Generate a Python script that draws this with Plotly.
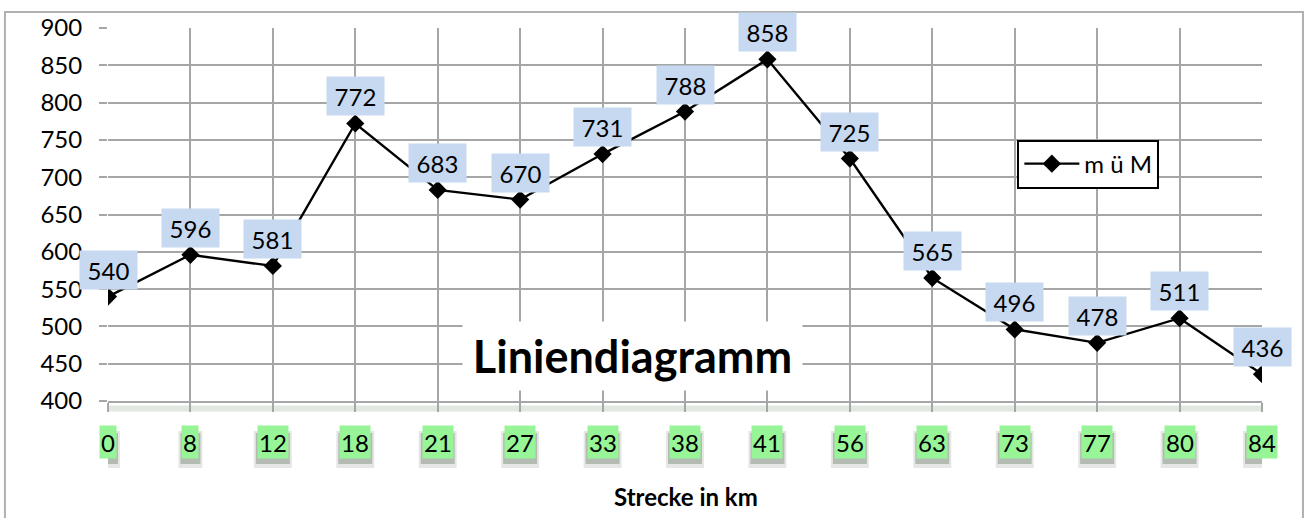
import plotly.graph_objects as go

categories = ["0", "8", "12", "18", "21", "27", "33", "38", "41", "56", "63", "73", "77", "80", "84"]
values = [540, 596, 581, 772, 683, 670, 731, 788, 858, 725, 565, 496, 478, 511, 436]
y_ticks = [400, 450, 500, 550, 600, 650, 700, 750, 800, 850, 900]
series_name = "m ü M"
title_text = "Liniendiagramm"
x_title = "Strecke in km"

FONT = "Lato"
GRID = "#a6a6a6"

fig = go.Figure()
fig.add_trace(go.Scatter(
    x=categories, y=values, mode="lines+markers", name=series_name,
    line=dict(color="black", width=2.4),
    marker=dict(symbol="diamond", size=14, color="black"),
))

annotations = []
shapes = []
# data labels (x given as category index)
for i, v in enumerate(values):
    annotations.append(dict(
        x=i, y=v, xref="x", yref="y", text=str(v), showarrow=False,
        xanchor="center", yanchor="middle",
        yshift=27, bgcolor="#c6d9f0", width=53, height=34, borderpad=2,
        font=dict(family=FONT, size=24, color="black"),
    ))
# green category labels with soft shadow
for i, c in enumerate(categories):
    half = len(c) * 7 + 2
    for extra, alpha, top, bottom in ((3, 0.12, -30, -67), (1, 0.26, -32, -63)):
        shapes.append(dict(
            type="rect", xref="x", yref="paper", xsizemode="pixel", ysizemode="pixel",
            xanchor=i, yanchor=0, x0=-half - extra, x1=half + extra, y0=bottom, y1=top,
            line=dict(width=0), fillcolor=f"rgba(40,60,40,{alpha})", layer="above",
        ))
    annotations.append(dict(
        x=i, y=0, xref="x", yref="paper", text=c, showarrow=False,
        xanchor="center", yanchor="middle",
        yshift=-41, bgcolor="#97f597", height=30, borderpad=1,
        font=dict(family=FONT, size=24, color="black"),
    ))
# title with white background
annotations.append(dict(
    x=0.4545, y=0.12, xref="paper", yref="paper", text="<b>" + title_text + "</b>",
    showarrow=False, xanchor="center", yanchor="middle",
    bgcolor="white", width=335, height=64, borderpad=2,
    font=dict(family=FONT, size=45, color="black"),
))
# x axis title
annotations.append(dict(
    x=0.501, y=0, xref="paper", yref="paper", text="<b>" + x_title + "</b>",
    showarrow=False, xanchor="center", yanchor="middle", yshift=-95,
    font=dict(family=FONT, size=24, color="black"),
))

shapes += [
    dict(type="line", xref="paper", yref="paper", x0=0, x1=1, y0=-0.02, y1=-0.02,
         line=dict(color="rgba(170,185,170,0.35)", width=6), layer="below"),
    # outer border
    dict(type="rect", xref="paper", yref="paper", x0=-0.0893, x1=1.0355, y0=-0.35, y1=1.0427,
         line=dict(color="#b0b0b0", width=2), fillcolor="rgba(0,0,0,0)", layer="below"),
]

fig.update_layout(
    width=1309, height=518,
    margin=dict(l=108, r=47, t=26, b=117),
    paper_bgcolor="white", plot_bgcolor="white",
    showlegend=True,
    legend=dict(x=0.788, y=0.701, xanchor="left", yanchor="top",
                bgcolor="white", bordercolor="black", borderwidth=2,
                itemwidth=55,
                font=dict(family=FONT, size=24, color="black")),
    annotations=annotations,
    shapes=shapes,
    font=dict(family=FONT),
)
fig.update_xaxes(
    type="category", range=[0, 14], showgrid=True, gridcolor=GRID, gridwidth=1.5,
    showticklabels=False, ticks="outside", ticklen=9, tickcolor=GRID, tickwidth=1.5,
    showline=True, linecolor=GRID, linewidth=1.5, zeroline=False,
)
fig.update_yaxes(
    range=[400, 900], tickvals=y_ticks, showgrid=True, gridcolor=GRID, gridwidth=1.5,
    ticks="outside", ticklen=8, tickcolor=GRID, tickwidth=1.5, ticklabelstandoff=12,
    tickfont=dict(family=FONT, size=24, color="black"), zeroline=False, showline=False,
)

fig.write_html(
    "out.html",
    config={"displayModeBar": False},
    post_script="document.body.style.margin='0';document.body.style.overflow='hidden';",
)
